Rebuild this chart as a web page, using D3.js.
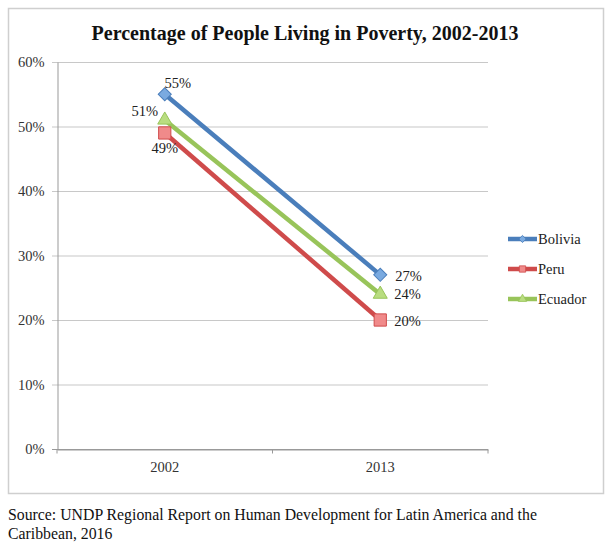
<!DOCTYPE html>
<html>
<head>
<meta charset="utf-8">
<script src="https://cdn.jsdelivr.net/npm/d3@7"></script>
<style>
  body { margin: 0; background: #fff; }
  svg text { font-family: "Liberation Serif", serif; }
</style>
</head>
<body>
<svg id="chart" width="611" height="552"></svg>
<script>
// data
const years = ['2002', '2013'];
const seriesNames = ['Bolivia', 'Peru', 'Ecuador'];
const bolivia = [55, 27];
const peru = [49, 20];
const ecuador = [51, 24];
const yTicks = [0, 10, 20, 30, 40, 50, 60];

const colors = { Bolivia: '#4a7ebb', Peru: '#cf4b4b', Ecuador: '#98c45a' };
const fills = { Bolivia: '#7aaae0', Peru: '#f08a8a', Ecuador: '#b9dd80' };

const series = [
  { name: 'Bolivia', values: bolivia },
  { name: 'Peru', values: peru },
  { name: 'Ecuador', values: ecuador }
];

// marker shapes, diamond is a turned square
function marker(name, big) {
  if (name === 'Bolivia') return { d: d3.symbol().type(d3.symbolSquare).size(big ? 85 : 26)(), rot: 45 };
  if (name === 'Peru') return { d: d3.symbol().type(d3.symbolSquare).size(big ? 150 : 40)(), rot: 0 };
  return { d: d3.symbol().type(d3.symbolTriangle).size(big ? 85 : 30)(), rot: 0 };
}

const svg = d3.select('#chart');

// outer chart frame
svg.append('rect')
  .attr('x', 8.5).attr('y', 8.5)
  .attr('width', 595).attr('height', 485)
  .attr('fill', '#fff')
  .attr('stroke', '#cfcfcf')
  .attr('stroke-width', 1.5);

svg.append('text')
  .attr('x', 305).attr('y', 40)
  .attr('text-anchor', 'middle')
  .attr('font-size', '20px')
  .attr('font-weight', 'bold')
  .attr('fill', '#111')
  .text('Percentage of People Living in Poverty, 2002-2013');

const x = d3.scaleBand().domain(years).range([57, 488]);
const y = d3.scaleLinear().domain([0, 60]).range([449, 62]);

// gridlines
svg.append('g')
  .selectAll('line')
  .data(yTicks)
  .join('line')
  .attr('x1', 52).attr('x2', 488)
  .attr('y1', d => y(d) + 0.5).attr('y2', d => y(d) + 0.5)
  .attr('stroke', d => d === 0 ? '#999' : '#c8c8c8')
  .attr('stroke-width', 1.2);

// y axis
const yAxis = svg.append('g')
  .attr('transform', 'translate(57.5,0)')
  .call(d3.axisLeft(y).tickValues(yTicks).tickSize(0).tickPadding(13).tickFormat(d => d + '%'));
yAxis.select('.domain').attr('stroke', '#999');
yAxis.selectAll('text').attr('font-size', '14.5px').attr('fill', '#333')
  .attr('font-family', '"Liberation Serif", serif');

// x axis
const xAxis = svg.append('g')
  .attr('transform', 'translate(0,' + (y(0) + 0.5) + ')')
  .call(d3.axisBottom(x).tickSizeInner(0).tickSizeOuter(0).tickPadding(12));
xAxis.select('.domain').attr('stroke', '#999');
xAxis.selectAll('text').attr('font-size', '14.5px').attr('fill', '#333')
  .attr('font-family', '"Liberation Serif", serif');
// category separators
xAxis.selectAll('.sep')
  .data([57, 272.5, 488])
  .join('line')
  .attr('x1', d => d).attr('x2', d => d)
  .attr('y1', 0).attr('y2', 4)
  .attr('stroke', '#999');

const cx = d => x(d) + x.bandwidth() / 2;

const line = d3.line()
  .x((d, i) => cx(years[i]))
  .y(d => y(d));

const g = svg.append('g');

series.forEach(s => {
  g.append('path')
    .datum(s.values)
    .attr('d', line)
    .attr('fill', 'none')
    .attr('stroke', colors[s.name])
    .attr('stroke-width', 4.5);
});

series.forEach(s => {
  const m = marker(s.name, true);
  g.selectAll('.m-' + s.name)
    .data(s.values)
    .join('path')
    .attr('transform', (d, i) => 'translate(' + cx(years[i]) + ',' + y(d) + ') rotate(' + m.rot + ')')
    .attr('d', m.d)
    .attr('fill', fills[s.name])
    .attr('stroke', colors[s.name])
    .attr('stroke-width', 1);
});

// data labels
const labelOffsets = {
  Bolivia: [[13, -6], [15, 6]],
  Peru: [[0, 20], [14, 6]],
  Ecuador: [[-20, -4], [14, 5]]
};
series.forEach(s => {
  g.selectAll('.l-' + s.name)
    .data(s.values)
    .join('text')
    .attr('x', (d, i) => cx(years[i]) + labelOffsets[s.name][i][0])
    .attr('y', (d, i) => y(d) + labelOffsets[s.name][i][1])
    .attr('text-anchor', (d, i) => i === 0 ? 'middle' : 'start')
    .attr('font-size', '14.5px')
    .attr('fill', '#222')
    .text(d => d + '%');
});

// legend
const legend = svg.append('g')
  .selectAll('g')
  .data(seriesNames)
  .join('g')
  .attr('transform', (d, i) => 'translate(508,' + (239 + i * 30) + ')');
legend.append('line')
  .attr('x1', 0).attr('x2', 29)
  .attr('stroke', d => colors[d])
  .attr('stroke-width', 4.5);
legend.append('path')
  .attr('transform', d => 'translate(14.5,0) rotate(' + marker(d, false).rot + ')')
  .attr('d', d => marker(d, false).d)
  .attr('fill', d => fills[d])
  .attr('stroke', d => colors[d])
  .attr('stroke-width', 0.8);
legend.append('text')
  .attr('x', 30).attr('y', 5)
  .attr('font-size', '14.5px')
  .attr('fill', '#222')
  .text(d => d);

// source note
const source = svg.append('text')
  .attr('font-size', '15.8px')
  .attr('fill', '#111');
source.append('tspan').attr('x', 8).attr('y', 520)
  .text('Source: UNDP Regional Report on Human Development for Latin America and the');
source.append('tspan').attr('x', 8).attr('y', 539)
  .text('Caribbean, 2016');
</script>
</body>
</html>
